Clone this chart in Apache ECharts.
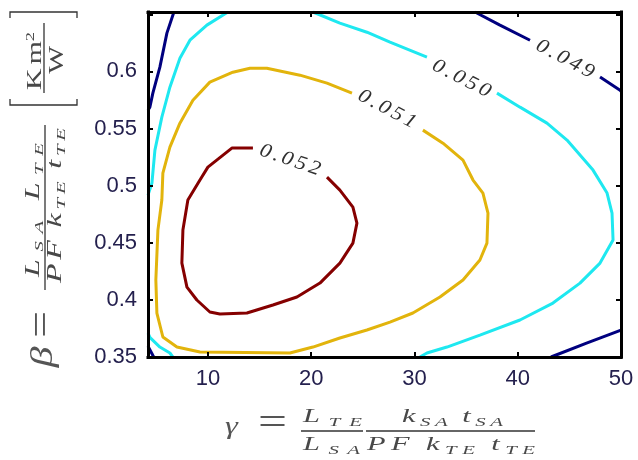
<!DOCTYPE html>
<html><head><meta charset="utf-8">
<script src="https://cdn.jsdelivr.net/npm/echarts@6/dist/echarts.min.js"></script>
<style>html,body{margin:0;padding:0;background:#fff}#c{width:638px;height:460px}</style>
</head><body><div id="c"></div>
<script>
// ---------- axis ranges / ticks ----------
const xRange = [4.2, 50];
const yRange = [0.35, 0.652];
const yTickStep = 0.05;

// ---------- contour levels (data coordinates: gamma, beta) ----------
const level052 = [[21.53,0.5075],[22.78,0.4961],[24.04,0.4812],[24.43,0.4672],[24.04,0.4497],[22.78,0.4322],[20.85,0.4147],[18.62,0.4025],[16.30,0.3955],[13.78,0.3885],[11.16,0.3876],[10.19,0.3894],[8.93,0.3999],[7.97,0.4112],[7.48,0.4322],[7.58,0.4611],[8.06,0.4874],[9.23,0.5049],[10.0,0.5162],[12.32,0.5329],[14.36,0.5329]];
const level051 = [[23.95,0.5810],[21.53,0.5897],[18.91,0.5967],[15.71,0.6028],[14.07,0.6028],[12.42,0.5993],[10.19,0.5906],[8.55,0.5748],[7.29,0.5547],[6.32,0.5337],[5.64,0.5110],[5.54,0.4874],[5.16,0.4611],[4.96,0.4174],[5.06,0.3885],[5.64,0.3675],[7.0,0.3587],[9.23,0.3544],[17.94,0.3535],[20.17,0.3587],[22.78,0.3666],[25.40,0.3736],[27.63,0.3806],[29.85,0.3885],[32.47,0.4025],[34.70,0.4174],[36.34,0.4349],[37.02,0.4497],[37.12,0.4760],[36.63,0.4935],[35.67,0.5049],[34.70,0.5224],[32.76,0.5372],[30.82,0.5486]];
const level050Left = [[11.94,0.652],[9.90,0.6405],[8.26,0.6273],[7.29,0.6116],[6.32,0.5862],[5.54,0.5600],[4.87,0.5311],[4.58,0.5022],[4.2,0.4917]];
const level050Corner = [[4.2,0.371],[4.4,0.367],[5.35,0.3587],[6.32,0.3535],[6.6,0.35]];
const level050Top = [[20.17,0.652],[22.78,0.6422],[25.40,0.6343],[27.63,0.6256],[31.21,0.6125]];
const level050Right = [[37.99,0.5810],[40.22,0.5687],[42.83,0.5547],[44.77,0.5399],[47.29,0.5136],[48.65,0.4935],[49.13,0.4760],[49.23,0.4524],[47.97,0.4322],[46.03,0.4147],[43.41,0.3972],[40.22,0.3824],[36.34,0.3692],[33.15,0.3587],[31.21,0.3535],[30.53,0.35]];
const level049Left = [[6.71,0.652],[6.03,0.6335],[5.35,0.6037],[4.67,0.5810],[4.38,0.5687],[4.2,0.5661]];
const level049Top = [[35.86,0.652],[38.28,0.6405],[41.19,0.6273]];
const level049TopRight = [[47.97,0.5950],[49.91,0.5836],[50,0.5827]];
const level049BottomRight = [[43.22,0.35],[46.6,0.362],[50,0.3736]];
const level049Corner = [[4.2,0.3595],[4.75,0.35]];

// ---------- contour labels ----------
const labelText = ['0.052','0.051','0.050','0.049'];
const labelPos = [[17.94,0.5224],[27.34,0.567],[34.55,0.5937],[44.58,0.6107]];
const labelAngle = [-19,-28,-27,-28];

// ---------- styles ----------
const colors = {c049:'#00007f', c050:'#1ee8f0', c051:'#e2b40c', c052:'#850000'};
const tickColor = '#24204e';
const mathColor = '#484848';
const serif = '"Liberation Serif", "Times New Roman", serif';

const mctx = document.createElement('canvas').getContext('2d');
function fontOf(size, italic){ return (italic ? 'italic ' : '') + size + 'px ' + serif; }
function tw(text, font){ mctx.font = font; return mctx.measureText(text).width; }

// lay out characters between left and right: horizontal stretch (capped) + letter spacing
// tokens: [text, size, italic, dy]
function mathRun(tokens, left, right, base, color, kMax){
  kMax = kMax || 1.6;
  const chars = [];
  tokens.forEach(t => { for (const ch of t[0]) chars.push([ch, t[1], t[2], t[3]||0]); });
  const ws = chars.map(c => tw(c[0], fontOf(c[1], c[2])));
  const total = ws.reduce((a,b)=>a+b,0);
  const span = right-left;
  const k = Math.min(kMax, span/total);
  let gap = 0, x = left;
  if (chars.length > 1) gap = (span - k*total)/(chars.length-1);
  else x = left + (span - k*total)/2;
  const out = [];
  chars.forEach((c,i)=>{
    if (c[0] !== ' ') {
      out.push({type:'text', silent:true, x:x, y: base + c[3] - 0.3*c[1], scaleX:k,
        style:{text:c[0], font:fontOf(c[1], c[2]), fill:color||mathColor, textAlign:'left', textVerticalAlign:'middle', align:'left', verticalAlign:'middle'}});
    }
    x += ws[i]*k + gap;
  });
  return out;
}
function hline(x1,x2,y,w){ return {type:'line', silent:true, shape:{x1:x1,y1:y,x2:x2,y2:y}, style:{stroke:'#333', lineWidth:w||1.3}}; }

// x-axis label: gamma = L_TE/L_SA * k_SA t_SA/(PF k_TE t_TE)
const S = 19, s = 13, d = 3.5;
let gx = [];
gx = gx.concat(mathRun([['γ',25,true,0]], 221, 242, 435, '#555', 1.3));
gx = gx.concat(mathRun([['=',38,false,0]], 258, 287, 425.5 + 9.5, '#555'));
gx = gx.concat(mathRun([['L',S,true,0],['TE',s,true,d]], 303, 362, 423));
gx.push(hline(301, 363, 431));
gx = gx.concat(mathRun([['L',S,true,0],['SA',s,true,d]], 303, 360, 451));
gx = gx.concat(mathRun([['k',S,true,0],['SA',s,true,d],[' ',s,false,0],['t',S,true,0],['SA',s,true,d]], 402, 503, 423));
gx.push(hline(366, 535, 431));
gx = gx.concat(mathRun([['P',S,true,0],['F',S,true,0],[' ',s,false,0],['k',S,true,0],['TE',s,true,d],[' ',s,false,0],['t',S,true,0],['TE',s,true,d]], 367, 535, 451));

// y-axis label (rotated group; local x runs upward on screen)
let gy = [];
gy = gy.concat(mathRun([['β',32,true,0]], -178, -156, 8, '#555', 1.3));
gy = gy.concat(mathRun([['=',38,false,0]], -148, -121, -0.5 + 9.5, '#555'));
gy = gy.concat(mathRun([['L',20,true,0],['SA',s,true,d],[' ',s,false,0],['L',20,true,0],['TE',s,true,d]], -87, 47, -5));
gy.push(hline(-100, 65, 0));
gy = gy.concat(mathRun([['P',20,true,0],['F',20,true,0],[' ',s,false,0],['k',20,true,0],['TE',s,true,d],[' ',s,false,0],['t',20,true,0],['TE',s,true,d]], -93, 62, 17));
gy = gy.concat(mathRun([['K',21,false,0],[' ',12,false,0],['m',21,false,0],['2',13,false,-8]], 100, 158, -3));
gy.push(hline(97, 167, -1));
gy = gy.concat(mathRun([['W',21,false,0]], 115, 145, 19, null, 1.4));
gy.push({type:'polyline', silent:true, shape:{points:[[91,-35],[85,-35],[85,32],[91,32]]}, style:{stroke:'#333', fill:null, lineWidth:1.3}});
gy.push({type:'polyline', silent:true, shape:{points:[[172,-35],[178,-35],[178,32],[172,32]]}, style:{stroke:'#333', fill:null, lineWidth:1.3}});

const axisLineStyle = {color:'#000', width:3, cap:'square'};
const tickStyle = {show:true, inside:true, length:5, lineStyle:{color:'#000', width:2}};
const labelFont = {fontFamily:'"Liberation Sans", Arial, sans-serif', fontSize:22, color:tickColor};

function lineSeries(data, color){
  return {type:'line', data:data, showSymbol:false, symbol:'none', smooth:false, clip:true,
    lineStyle:{color:color, width:3}, xAxisIndex:0, yAxisIndex:0, z:2, silent:true};
}

const option = {
  animation:false,
  backgroundColor:'#fff',
  grid:{left:148, right:17, top:12, bottom:103, show:false},
  xAxis:[
    {type:'value', min:xRange[0], max:xRange[1], splitNumber:5, position:'bottom', z:5,
     axisLine:{show:true, onZero:false, lineStyle:axisLineStyle}, axisTick:tickStyle, splitLine:{show:false},
     axisLabel:Object.assign({margin:11, formatter:v => (Math.abs(v/10 - Math.round(v/10)) < 1e-6 ? String(Math.round(v)) : '')}, labelFont)},
    {type:'value', min:xRange[0], max:xRange[1], splitNumber:5, position:'top', z:5,
     axisLine:{show:true, onZero:false, lineStyle:axisLineStyle}, axisTick:tickStyle, splitLine:{show:false}, axisLabel:{show:false}}
  ],
  yAxis:[
    {type:'value', min:yRange[0], max:yRange[1], interval:yTickStep, position:'left', z:5,
     axisLine:{show:true, onZero:false, lineStyle:axisLineStyle}, axisTick:tickStyle, splitLine:{show:false},
     axisLabel:Object.assign({margin:11, formatter:v => (v > 0.63 ? '' : String(+v.toFixed(2)))}, labelFont)},
    {type:'value', min:yRange[0], max:yRange[1], interval:yTickStep, position:'right', z:5,
     axisLine:{show:true, onZero:false, lineStyle:axisLineStyle}, axisTick:tickStyle, splitLine:{show:false}, axisLabel:{show:false}}
  ],
  series:[
    lineSeries(level049Left, colors.c049),
    lineSeries(level049Top, colors.c049),
    lineSeries(level049TopRight, colors.c049),
    lineSeries(level049BottomRight, colors.c049),
    lineSeries(level049Corner, colors.c049),
    lineSeries(level050Left, colors.c050),
    lineSeries(level050Corner, colors.c050),
    lineSeries(level050Top, colors.c050),
    lineSeries(level050Right, colors.c050),
    lineSeries(level051, colors.c051),
    lineSeries(level052, colors.c052),
    {type:'custom', coordinateSystem:'cartesian2d', xAxisIndex:0, yAxisIndex:0, silent:true, z:3,
     data: labelPos, encode:{x:0, y:1},
     renderItem:function(params, api){
       const p = api.coord([api.value(0), api.value(1)]);
       const txt = labelText[params.dataIndex];
       const font = fontOf(20, true);
       const k = 1.12, target = 63;
       const chars = txt.split('');
       const ws = chars.map(c => tw(c, font));
       const total = ws.reduce((a,b)=>a+b,0);
       const gap = (target - k*total)/(chars.length-1);
       let x = -target/2;
       const kids = chars.map((c,i)=>{
         const el = {type:'text', x:x, y:0, scaleX:k,
           style:{text:c, font:font, fill:'#303030', textAlign:'left', textVerticalAlign:'middle', align:'left', verticalAlign:'middle'}};
         x += ws[i]*k + gap;
         return el;
       });
       return {type:'group', x:p[0], y:p[1], rotation: labelAngle[params.dataIndex]*Math.PI/180, children:kids};
     }}
  ],
  graphic:[
    {type:'group', silent:true, children:gx},
    {type:'group', silent:true, x:45, y:190, rotation:Math.PI/2, children:gy}
  ]
};
const chart = echarts.init(document.getElementById('c'));
chart.setOption(option);
</script></body></html>
